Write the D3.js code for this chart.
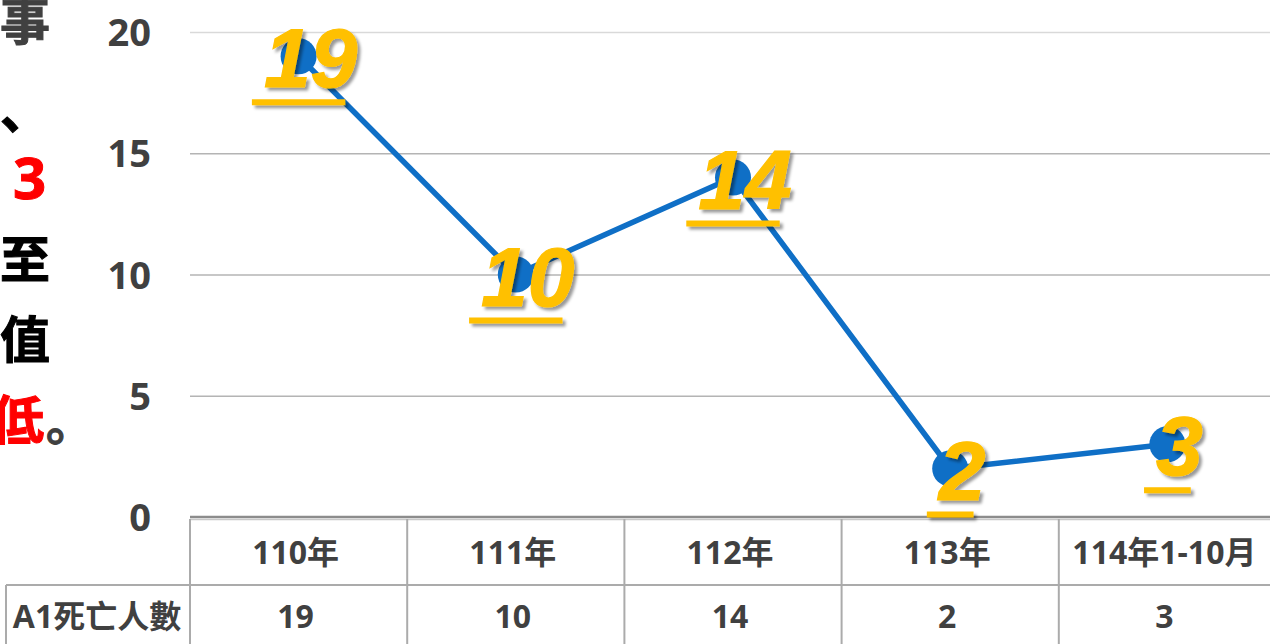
<!DOCTYPE html>
<html>
<head>
<meta charset="utf-8">
<script src="https://cdn.jsdelivr.net/npm/d3@7"></script>
<style>
  html, body { margin: 0; padding: 0; background: #fff; overflow: hidden; }
  svg { display: block; }
</style>
</head>
<body>
<div id="chart"></div>
<script>
// data
var categories = ["110年", "111年", "112年", "113年", "114年1-10月"];
var deaths = [19, 10, 14, 2, 3];
var yTicks = [0, 5, 10, 15, 20];
var rowLabel = "A1死亡人數";
// side text (right ends of a cropped text box)
var sideText = [
  { text: "事", color: "#404040" },
  { text: "、", color: "#000000" },
  { text: "3", color: "#ff0000" },
  { text: "至", color: "#000000" },
  { text: "值", color: "#000000" },
  { text: "低", color: "#ff0000", tail: "。" }
];

var width = 1270, height = 644;
var plotLeft = 190, plotRight = 1276, plotTop = 32, plotBottom = 517;
var rowTop = 519, rowMid = 585, rowBottom = 644, labelLeft = 6;

var palette = {
  blue: "#0F6FC6",
  yellow: "#FFC000",
  text: "#404040",
  grid: "#B4B4B4",
  table: "#ABABAB"
};
var numFont = "'Open Sans', 'Noto Sans CJK TC', sans-serif";

var svg = d3.select("#chart").append("svg")
    .attr("width", width)
    .attr("height", height);

var defs = svg.append("defs");
var shadow = defs.append("filter").attr("id", "shadow")
    .attr("x", "-20%").attr("y", "-20%").attr("width", "150%").attr("height", "150%");
shadow.append("feDropShadow")
    .attr("dx", 3).attr("dy", 3).attr("stdDeviation", 1.8)
    .attr("flood-color", "#000").attr("flood-opacity", 0.4);

var x = d3.scaleBand().domain(categories).range([plotLeft, plotRight]);
var y = d3.scaleLinear().domain([0, 20]).range([plotBottom, plotTop]);

// gridlines
svg.append("g")
    .attr("transform", "translate(" + plotLeft + ",0)")
    .call(d3.axisRight(y).tickValues(yTicks.slice(1)).tickSize(width - plotLeft).tickFormat(""))
    .call(function(g) { g.select(".domain").remove(); })
    .selectAll("line")
    .attr("stroke", function(d) { return d === 20 ? "#D9D9D9" : palette.grid; })
    .attr("stroke-width", 1.5);

// y tick labels
svg.append("g")
    .attr("transform", "translate(151,0)")
    .call(d3.axisLeft(y).tickValues(yTicks).tickSize(0).tickPadding(0))
    .call(function(g) { g.select(".domain").remove(); })
    .selectAll("text")
    .attr("fill", palette.text)
    .attr("font-family", numFont)
    .attr("font-weight", "bold")
    .attr("font-size", "38px")
    .attr("dy", "0.36em");

// axis line + data table
var table = svg.append("g");
table.append("line")
    .attr("x1", plotLeft).attr("x2", width)
    .attr("y1", plotBottom).attr("y2", plotBottom)
    .attr("stroke", "#8C8C8C").attr("stroke-width", 2.5);
table.append("line")
    .attr("x1", plotLeft).attr("x2", width)
    .attr("y1", rowTop + 0.5).attr("y2", rowTop + 0.5)
    .attr("stroke", "#C8C8C8").attr("stroke-width", 1.5);
table.append("line")
    .attr("x1", labelLeft).attr("x2", width)
    .attr("y1", rowMid).attr("y2", rowMid)
    .attr("stroke", palette.table).attr("stroke-width", 2);
table.append("line")
    .attr("x1", labelLeft).attr("x2", labelLeft)
    .attr("y1", rowMid).attr("y2", rowBottom)
    .attr("stroke", palette.table).attr("stroke-width", 2);
table.selectAll(".vline").data(categories).enter().append("line")
    .attr("class", "vline")
    .attr("x1", function(d) { return x(d); })
    .attr("x2", function(d) { return x(d); })
    .attr("y1", rowTop).attr("y2", rowBottom)
    .attr("stroke", palette.table).attr("stroke-width", 2);

table.selectAll(".cat").data(categories).enter().append("text")
    .attr("class", "cat")
    .attr("x", function(d) { return x(d) + x.bandwidth() / 2 - 3; })
    .attr("y", 564)
    .attr("text-anchor", "middle")
    .attr("fill", palette.text)
    .attr("font-family", numFont)
    .attr("font-weight", "bold")
    .attr("font-size", "32px")
    .text(function(d) { return d; });

table.selectAll(".val").data(deaths).enter().append("text")
    .attr("class", "val")
    .attr("x", function(d, i) { return x(categories[i]) + x.bandwidth() / 2 - 3; })
    .attr("y", 628)
    .attr("text-anchor", "middle")
    .attr("fill", palette.text)
    .attr("font-family", numFont)
    .attr("font-weight", "bold")
    .attr("font-size", "32px")
    .text(function(d) { return d; });

table.append("text")
    .attr("x", 97).attr("y", 628)
    .attr("text-anchor", "middle")
    .attr("fill", palette.text)
    .attr("font-family", numFont)
    .attr("font-weight", "bold")
    .attr("font-size", "32px")
    .text(rowLabel);

// line + markers
var pts = deaths.map(function(d, i) {
  return { cat: categories[i], value: d, x: x(categories[i]) + x.bandwidth() / 2, y: y(d) };
});

var line = d3.line().x(function(d) { return d.x; }).y(function(d) { return d.y; });
svg.append("path")
    .datum(pts)
    .attr("d", line)
    .attr("fill", "none")
    .attr("stroke", palette.blue)
    .attr("stroke-width", 5.5);

svg.selectAll(".dot").data(pts).enter().append("circle")
    .attr("class", "dot")
    .attr("cx", function(d) { return d.x; })
    .attr("cy", function(d) { return d.y; })
    .attr("r", 18)
    .attr("fill", palette.blue);

// data labels (yellow, italic, underlined, shadowed)
var lab = svg.selectAll(".lab").data(pts).enter().append("g")
    .attr("class", "lab")
    .attr("filter", "url(#shadow)");
lab.append("text")
    .attr("x", function(d) { return d.x + 12; })
    .attr("y", function(d) { return d.y + 31; })
    .attr("text-anchor", "middle")
    .attr("fill", palette.yellow)
    .attr("stroke", palette.yellow)
    .attr("stroke-width", 1.2)
    .attr("font-family", "'Liberation Sans', Arial, sans-serif")
    .attr("font-style", "italic")
    .attr("font-weight", "bold")
    .attr("font-size", "84px")
    .text(function(d) { return d.value; });
lab.each(function(d) {
  var w = d3.select(this).select("text").node().getComputedTextLength();
  d3.select(this).append("rect")
      .attr("x", d.x - w / 2)
      .attr("y", d.y + 43)
      .attr("width", w)
      .attr("height", 6)
      .attr("fill", palette.yellow);
});

// side text
var side = svg.append("g")
    .attr("font-family", "'Noto Sans CJK JP', 'Noto Sans CJK SC', sans-serif")
    .attr("font-weight", "bold");
var sideY = [40, 129, 199, 278, 358, 440];
sideText.forEach(function(s, i) {
  var isNum = s.text === "3";
  var t = side.append("text")
      .attr("x", isNum ? 13 : 0)
      .attr("y", sideY[i])
      .attr("font-family", isNum ? numFont : null)
      .attr("font-size", isNum ? "58px" : "50px")
      .attr("fill", s.color)
      .attr("stroke", s.color)
      .attr("stroke-width", 1)
      .text(s.text);
  if (s.tail) {
    t.attr("x", -9).attr("font-size", "53px");
    t.append("tspan")
        .attr("dx", 2)
        .attr("font-size", "48px")
        .attr("fill", palette.text)
        .attr("stroke", palette.text)
        .text(s.tail);
  }
});
</script>
</body>
</html>
